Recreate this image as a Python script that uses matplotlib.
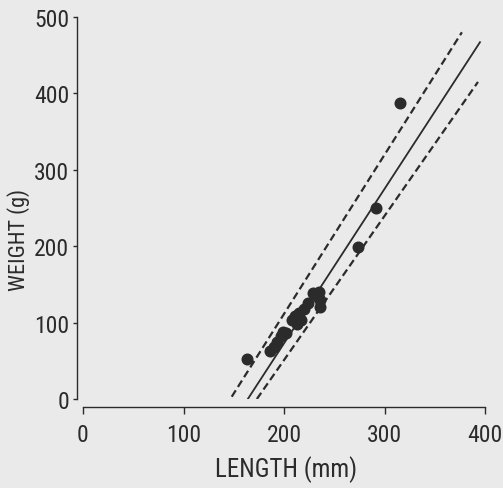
import matplotlib
matplotlib.use("Agg")
import matplotlib.pyplot as plt
from matplotlib import font_manager

# Data
length_mm = [163, 186, 190, 193, 197, 199, 202, 208, 211, 213, 215, 217,
             220, 224, 229, 234, 235, 236, 236, 274, 292, 315]
weight_g = [52, 63, 68, 74, 82, 88, 86, 104, 108, 98, 112, 104,
            118, 126, 139, 134, 140, 130, 121, 199, 250, 387]

fit_x = [164, 395]
fit_y = [0, 467]
upper_x = [148, 377]
upper_y = [3, 480]
lower_x = [173, 393]
lower_y = [0, 415]

x_ticks = [0, 100, 200, 300, 400]
y_ticks = [0, 100, 200, 300, 400, 500]
x_label = "LENGTH (mm)"
y_label = "WEIGHT (g)"

names = {f.name for f in font_manager.fontManager.ttflist}
fam = next((n for n in ["Roboto Condensed", "Archivo Narrow", "Asap Condensed",
                        "Barlow Condensed"] if n in names), "DejaVu Sans")
plt.rcParams['font.family'] = [fam, 'DejaVu Sans']

bg = "#ebeaea"
ink = "#2b2b2b"

fig = plt.figure(figsize=(5.03, 4.89), dpi=100, facecolor=bg)
W, H = 503, 489
ax = fig.add_axes([83 / W, (H - 400) / H, (485 - 83) / W, (400 - 18) / H])
ax.set_facecolor(bg)

ax.scatter(length_mm, weight_g, s=75, color=ink, zorder=3, linewidths=0)
ax.plot(fit_x, fit_y, color=ink, lw=1.3)
ax.plot(upper_x, upper_y, color=ink, lw=1.6, dashes=(3.4, 1.8))
ax.plot(lower_x, lower_y, color=ink, lw=1.6, dashes=(3.4, 1.8))

ax.set_xlim(0, 400)
ax.set_ylim(0, 500)
ax.set_xticks(x_ticks)
ax.set_yticks(y_ticks)
for s in ['top', 'right']:
    ax.spines[s].set_visible(False)
ax.spines['left'].set_position(('outward', 4))
ax.spines['bottom'].set_position(('outward', 6))
for s in ['left', 'bottom']:
    ax.spines[s].set_color(ink)
    ax.spines[s].set_linewidth(1.0)
ax.tick_params(colors=ink, labelsize=17, width=1, direction='out')
ax.tick_params(axis='x', length=5, pad=6)
ax.tick_params(axis='y', length=3, pad=3)
fig.text(286 / W, 1 - 470 / H, x_label, fontsize=18, color=ink,
         ha='center', va='center')
fig.text(19 / W, 1 - 240 / H, y_label, fontsize=16, color=ink,
         ha='center', va='center', rotation=90)

fig.savefig("out.png", dpi=100, facecolor=bg)
